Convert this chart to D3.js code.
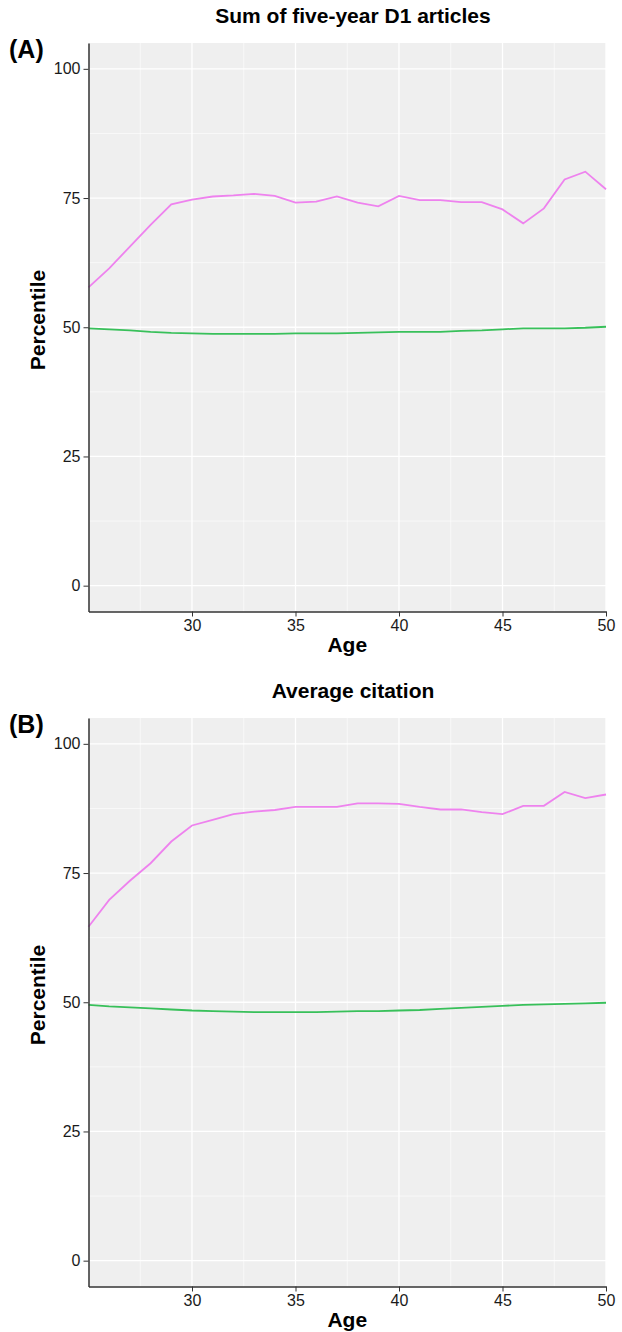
<!DOCTYPE html>
<html>
<head>
<meta charset="utf-8">
<script src="https://cdn.jsdelivr.net/npm/d3@7"></script>
<style>
  body { margin: 0; background: #fff; }
  svg { display: block; font-family: "Liberation Sans", Arial, sans-serif; }
</style>
</head>
<body>
<script>
const ages = [25,26,27,28,29,30,31,32,33,34,35,36,37,38,39,40,41,42,43,44,45,46,47,48,49,50];

// panel A: sum of five-year D1 articles
const d1Pink  = [57.7,61.4,65.6,69.8,73.8,74.7,75.3,75.5,75.8,75.4,74.1,74.3,75.3,74.1,73.4,75.4,74.6,74.6,74.2,74.2,72.8,70.1,73.0,78.6,80.1,76.7];
const d1Green = [49.8,49.6,49.4,49.1,48.9,48.8,48.7,48.7,48.7,48.7,48.8,48.8,48.8,48.9,49.0,49.1,49.1,49.1,49.3,49.4,49.6,49.8,49.8,49.8,49.9,50.1];

// panel B: average citation
const citPink  = [64.6,69.8,73.5,76.9,81.1,84.2,85.3,86.4,86.9,87.2,87.8,87.8,87.8,88.5,88.5,88.4,87.8,87.3,87.3,86.8,86.4,88.0,88.0,90.7,89.5,90.2];
const citGreen = [49.5,49.2,49.0,48.8,48.6,48.4,48.3,48.2,48.1,48.1,48.1,48.1,48.2,48.3,48.3,48.4,48.5,48.7,48.9,49.1,49.3,49.5,49.6,49.7,49.8,49.9];

const xTicks = [30,35,40,45,50];
const xMinor = [27.5,32.5,37.5,42.5,47.5];
const yTicks = [0,25,50,75,100];
const yMinor = [12.5,37.5,62.5,87.5];

const panels = [
  {tag: "(A)", title: "Sum of five-year D1 articles", pink: d1Pink, green: d1Green, top: 43},
  {tag: "(B)", title: "Average citation", pink: citPink, green: citGreen, top: 718}
];

const width = 622, height = 1332;
const left = 88.5, right = 606, plotH = 568.5;
const pinkColor = "#ee82ee", greenColor = "#38c05a";

const svg = d3.select("body").append("svg")
  .attr("width", width)
  .attr("height", height);

const x = d3.scaleLinear().domain([25, 50]).range([left, right]);

panels.forEach(p => {
  const y = d3.scaleLinear().domain([-5, 105]).range([p.top + plotH, p.top]);
  const g = svg.append("g");

  g.append("rect")
    .attr("x", left).attr("y", p.top)
    .attr("width", right - left).attr("height", plotH)
    .attr("fill", "#efefef");

  // minor grid
  g.selectAll(".vminor").data(xMinor).join("line")
    .attr("class", "vminor")
    .attr("x1", d => x(d)).attr("x2", d => x(d))
    .attr("y1", p.top).attr("y2", p.top + plotH)
    .attr("stroke", "#fff").attr("stroke-width", 0.6);
  g.selectAll(".hminor").data(yMinor).join("line")
    .attr("class", "hminor")
    .attr("x1", left).attr("x2", right)
    .attr("y1", d => y(d)).attr("y2", d => y(d))
    .attr("stroke", "#fff").attr("stroke-width", 0.6);

  // major grid
  g.selectAll(".vmajor").data(xTicks).join("line")
    .attr("class", "vmajor")
    .attr("x1", d => x(d)).attr("x2", d => x(d))
    .attr("y1", p.top).attr("y2", p.top + plotH)
    .attr("stroke", "#fff").attr("stroke-width", 1.3);
  g.selectAll(".hmajor").data(yTicks).join("line")
    .attr("class", "hmajor")
    .attr("x1", left).attr("x2", right)
    .attr("y1", d => y(d)).attr("y2", d => y(d))
    .attr("stroke", "#fff").attr("stroke-width", 1.3);

  const line = vals => d3.line()
    .x((d, i) => x(ages[i]))
    .y(d => y(d))(vals);

  g.append("path").attr("d", line(p.green))
    .attr("fill", "none").attr("stroke", greenColor).attr("stroke-width", 1.8);
  g.append("path").attr("d", line(p.pink))
    .attr("fill", "none").attr("stroke", pinkColor).attr("stroke-width", 1.8);

  const xAxis = d3.axisBottom(x).tickValues(xTicks).tickSize(5).tickSizeOuter(0).tickPadding(3);
  const yAxis = d3.axisLeft(y).tickValues(yTicks).tickSize(5).tickSizeOuter(0).tickPadding(3);

  const gx = g.append("g")
    .attr("transform", "translate(0," + (p.top + plotH) + ")")
    .call(xAxis);
  const gy = g.append("g")
    .attr("transform", "translate(" + left + ",0)")
    .call(yAxis);

  [gx, gy].forEach(a => {
    a.select(".domain").attr("stroke", "#333").attr("stroke-width", 1.5);
    a.selectAll(".tick line").attr("stroke", "#333").attr("stroke-width", 1);
    a.selectAll(".tick text")
      .attr("fill", "#1a1a1a")
      .attr("font-size", 16)
      .attr("font-family", "Liberation Sans, Arial, sans-serif");
  });

  g.append("text")
    .attr("x", 353).attr("y", p.top - 20)
    .attr("text-anchor", "middle")
    .attr("font-weight", "bold").attr("font-size", 21)
    .text(p.title);

  g.append("text")
    .attr("x", 9).attr("y", p.top + 15)
    .attr("font-weight", "bold").attr("font-size", 25)
    .text(p.tag);

  g.append("text")
    .attr("x", (left + right) / 2).attr("y", p.top + plotH + 40)
    .attr("text-anchor", "middle")
    .attr("font-weight", "bold").attr("font-size", 21)
    .text("Age");

  g.append("text")
    .attr("transform", "translate(45," + (p.top + 277) + ") rotate(-90)")
    .attr("text-anchor", "middle")
    .attr("font-weight", "bold").attr("font-size", 21)
    .text("Percentile");
});
</script>
</body>
</html>
